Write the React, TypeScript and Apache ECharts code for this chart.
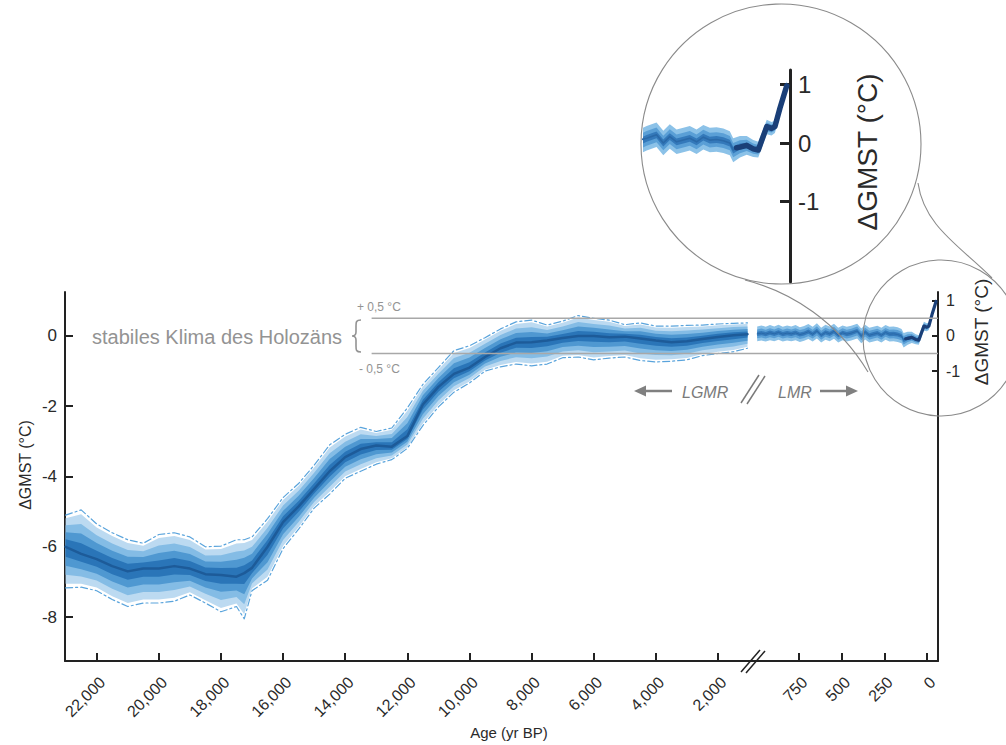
import React, { useEffect, useRef } from 'react';
import * as echarts from 'echarts';

// ---------- DATA ----------
// LGMR (Last Glacial Maximum Reanalysis), age in yr BP, ΔGMST in °C
const lgmrAges = [23000, 22500, 22000, 21500, 21000, 20500, 20000, 19500, 19000, 18500, 18000, 17500, 17250, 17000, 16500, 16000, 15500, 15000, 14500, 14000, 13500, 13000, 12500, 12000, 11500, 11000, 10500, 10000, 9500, 9000, 8500, 8000, 7500, 7000, 6500, 6000, 5500, 5000, 4500, 4000, 3500, 3000, 2500, 2000, 1500, 1050];
const lgmrMedian = [-6.0, -6.2, -6.35, -6.55, -6.7, -6.62, -6.62, -6.55, -6.62, -6.78, -6.8, -6.85, -6.75, -6.6, -6.0, -5.3, -4.85, -4.35, -3.85, -3.45, -3.22, -3.12, -3.15, -2.85, -1.95, -1.45, -1.08, -0.9, -0.6, -0.35, -0.19, -0.18, -0.13, -0.06, 0.0, 0.0, -0.04, -0.02, -0.07, -0.13, -0.18, -0.15, -0.09, -0.03, 0.02, 0.05];
const lgmrUpper = [-5.1, -4.95, -5.35, -5.6, -5.8, -5.9, -5.65, -5.6, -5.72, -6.0, -5.98, -5.8, -5.8, -5.72, -5.2, -4.6, -4.2, -3.68, -3.1, -2.8, -2.6, -2.72, -2.62, -2.05, -1.38, -0.9, -0.42, -0.28, -0.05, 0.2, 0.4, 0.45, 0.31, 0.42, 0.58, 0.5, 0.45, 0.32, 0.37, 0.28, 0.28, 0.3, 0.31, 0.34, 0.36, 0.37];
const lgmrLower = [-7.17, -7.15, -7.25, -7.5, -7.7, -7.6, -7.6, -7.55, -7.37, -7.6, -7.85, -7.7, -8.05, -7.25, -6.95, -6.05, -5.5, -4.9, -4.5, -4.05, -3.85, -3.65, -3.52, -3.2, -2.55, -2.02, -1.6, -1.34, -1.0, -0.88, -0.8, -0.85, -0.8, -0.62, -0.6, -0.68, -0.63, -0.6, -0.7, -0.74, -0.72, -0.68, -0.56, -0.5, -0.45, -0.35];

// LMR (Last Millennium Reanalysis)
const lmrAges = [995, 970, 945, 920, 895, 870, 845, 820, 795, 770, 745, 720, 695, 670, 645, 620, 595, 570, 545, 520, 495, 470, 444, 409, 385, 362, 338, 314, 291, 267, 243, 220, 196, 172, 149, 137, 113, 89, 66, 48, 36, 18, 1, -11, -29, -53];
const lmrMedian = [0.06, 0.08, 0.05, 0.09, 0.06, 0.10, 0.05, 0.08, 0.06, 0.09, 0.04, 0.07, 0.12, 0.05, 0.14, 0.02, 0.10, 0.06, 0.13, 0.02, 0.09, 0.05, 0.08, 0.14, 0.00, 0.11, 0.02, 0.05, 0.08, 0.02, 0.10, 0.05, 0.06, 0.04, 0.00, -0.12, -0.06, -0.04, -0.10, -0.12, 0.04, 0.28, 0.25, 0.28, 0.60, 0.98];
const lmrUpper = [0.27, 0.30, 0.26, 0.31, 0.27, 0.32, 0.26, 0.30, 0.27, 0.31, 0.25, 0.28, 0.34, 0.26, 0.36, 0.23, 0.32, 0.27, 0.35, 0.23, 0.30, 0.26, 0.29, 0.35, 0.21, 0.32, 0.23, 0.26, 0.29, 0.23, 0.31, 0.26, 0.27, 0.25, 0.20, 0.08, 0.12, 0.12, 0.05, 0.02, 0.17, 0.40, 0.36, 0.38, 0.70, 1.06];
const lmrLower = [-0.15, -0.13, -0.16, -0.12, -0.15, -0.11, -0.16, -0.13, -0.15, -0.12, -0.17, -0.14, -0.09, -0.16, -0.07, -0.19, -0.11, -0.15, -0.08, -0.19, -0.12, -0.16, -0.13, -0.07, -0.21, -0.10, -0.19, -0.16, -0.13, -0.19, -0.11, -0.16, -0.15, -0.17, -0.21, -0.33, -0.25, -0.20, -0.24, -0.25, -0.09, 0.15, 0.13, 0.17, 0.50, 0.90];

// instrumental segment (thick dark line)
const instAges = [125, 113, 89, 66, 48, 36, 18, 1, -11, -29, -53];
const instValues = [-0.08, -0.07, -0.04, -0.10, -0.12, 0.04, 0.28, 0.25, 0.28, 0.60, 0.98];

// ticks
const lgmrTicks = [22000, 20000, 18000, 16000, 14000, 12000, 10000, 8000, 6000, 4000, 2000];
const lmrTicks = [750, 500, 250, 0];
const leftYTicks = [-8, -6, -4, -2, 0];
const rightYTicks = [-1, 0, 1];
const holoceneBand = [0.5, -0.5];

// ---------- STYLE ----------
const FONT = '"Liberation Sans", Arial, Helvetica, sans-serif';
const AXIS = '#222';
const GRAY = '#939393';

echarts.graphic.registerShape(
  'brace',
  echarts.graphic.extendPath(
    'M9,0 C4,0 4,2 4,6 L4,12 C4,15 3,16 0,16 C3,16 4,17 4,20 L4,26 C4,30 4,32 9,32',
    {}
  )
);

const layer = (med: number[], bound: number[], f: number) => med.map((m, i) => m + f * (bound[i] - m));

function band(xi: number, ages: number[], up: number[], lo: number[], color: string, z: number) {
  return {
    type: 'custom',
    xAxisIndex: xi,
    yAxisIndex: xi,
    silent: true,
    z,
    data: [[ages[0], 0]],
    renderItem: (params: any, api: any) => {
      const pts: number[][] = [];
      for (let i = 0; i < ages.length; i++) pts.push(api.coord([ages[i], up[i]]));
      for (let i = ages.length - 1; i >= 0; i--) pts.push(api.coord([ages[i], lo[i]]));
      const cs = params.coordSys;
      const clipped = echarts.graphic.clipPointsByRect(pts, { x: cs.x, y: cs.y, width: cs.width, height: cs.height });
      return { type: 'polygon', shape: { points: clipped }, style: { fill: color } };
    },
  };
}

function line(xi: number, ages: number[], vals: number[], color: string, width: number, z: number, type: any = 'solid') {
  return {
    type: 'line',
    xAxisIndex: xi,
    yAxisIndex: xi,
    data: ages.map((a, i) => [a, vals[i]]),
    symbol: 'none',
    showSymbol: false,
    silent: true,
    clip: true,
    z,
    lineStyle: { color, width, type, join: 'round', cap: 'round' },
  };
}

const fmt = (v: number) => v.toLocaleString('en-US');

export default function App() {
  const ref = useRef<HTMLDivElement>(null);
  useEffect(() => {
    const chart = echarts.init(ref.current!, null, { renderer: 'svg' });

    const lgmrColors = ['#bcdaf1', '#84bce5', '#4f98d1', '#2a75b8'];
    const lgmrFr = [0.9, 0.68, 0.46, 0.24];
    const lgmrBands = lgmrFr.map((f, k) =>
      band(0, lgmrAges, layer(lgmrMedian, lgmrUpper, f), layer(lgmrMedian, lgmrLower, f), lgmrColors[k], 2 + k * 0.01)
    );
    const lmrColors = ['#8cc2e8', '#5a9fd6', '#3479ba'];
    const lmrFr = [1, 0.6, 0.28];
    const lmrBands = (xi: number) =>
      lmrFr.map((f, k) =>
        band(xi, lmrAges, layer(lmrMedian, lmrUpper, f), layer(lmrMedian, lmrLower, f), lmrColors[k], 2 + k * 0.01)
      );

    const baseX = (grid: number, min: number, max: number, ticks: number[] | null) => ({
      type: 'value',
      gridIndex: grid,
      inverse: true,
      min,
      max,
      show: ticks !== null,
      splitLine: { show: false },
      axisLine: { show: true, onZero: false, lineStyle: { color: AXIS, width: 2 } },
      axisTick: { show: true, inside: true, length: 8, customValues: ticks || [], lineStyle: { color: AXIS, width: 2 } },
      axisLabel: {
        show: true,
        customValues: ticks || [],
        rotate: 45,
        margin: 13,
        fontSize: 16,
        fontFamily: FONT,
        color: '#2a2a2a',
        verticalAlign: 'top',
        formatter: fmt,
      },
    });

    const baseY = (grid: number, min: number, max: number, ticks: number[], pos: string, fs: number, lw: number, tl: number) => ({
      type: 'value',
      gridIndex: grid,
      position: pos,
      min,
      max,
      splitLine: { show: false },
      axisLine: { show: true, onZero: false, lineStyle: { color: AXIS, width: lw } },
      axisTick: { show: true, inside: true, length: tl, customValues: ticks, lineStyle: { color: AXIS, width: lw } },
      axisLabel: { show: true, customValues: ticks, margin: 8, fontSize: fs, fontFamily: FONT, color: '#2a2a2a' },
    });

    const gl = { color: '#a8a8a8', width: 1.5 };
    const holoLines: any[] = [];
    holoceneBand.forEach((v) => {
      holoLines.push({
        type: 'line', xAxisIndex: 0, yAxisIndex: 0, symbol: 'none', silent: true, z: 6,
        data: [[13150, v], [873, v]], lineStyle: gl,
      });
      holoLines.push({
        type: 'line', xAxisIndex: 1, yAxisIndex: 1, symbol: 'none', silent: true, z: 6,
        data: [[1019.5, v], [-64.5, v]], lineStyle: gl,
      });
    });

    const txt = (text: string, x: number, y: number, size: number, opts: any = {}) => ({
      type: 'text',
      x,
      y,
      rotation: opts.rotation || 0,
      z: 20,
      style: {
        text,
        fill: opts.fill || '#2a2a2a',
        fontSize: size,
        fontFamily: FONT,
        fontStyle: opts.italic ? 'italic' : 'normal',
        align: opts.align || 'center',
        verticalAlign: 'middle',
      },
    });
    const seg = (x1: number, y1: number, x2: number, y2: number, color: string, w: number) => ({
      type: 'line', z: 20, shape: { x1, y1, x2, y2 }, style: { stroke: color, lineWidth: w },
    });

    const option: any = {
      animation: false,
      backgroundColor: '#ffffff',
      grid: [
        { left: 65, top: 292, width: 688, height: 369, outerBoundsMode: 'none' },
        { left: 753, top: 292, width: 185, height: 369, outerBoundsMode: 'none' },
        { left: 643, top: 70, width: 147, height: 212, outerBoundsMode: 'none' },
      ],
      xAxis: [
        baseX(0, 873, 23020, lgmrTicks),
        baseX(1, -64.5, 1019.5, lmrTicks),
        baseX(2, -64.5, 457, null),
      ],
      yAxis: [
        baseY(0, -9.25, 1.25, leftYTicks, 'left', 17, 2, 8),
        baseY(1, -9.25, 1.25, rightYTicks, 'right', 16, 2, 6),
        baseY(2, -2.38, 1.25, rightYTicks, 'right', 24, 3, 10),
      ],
      series: [
        ...lgmrBands,
        line(0, lgmrAges, lgmrMedian, '#1d5b99', 2.5, 4),
        line(0, lgmrAges, lgmrUpper, '#5aa4dc', 1.2, 4, [7, 3, 2, 3]),
        line(0, lgmrAges, lgmrLower, '#5aa4dc', 1.2, 4, [7, 3, 2, 3]),
        ...lmrBands(1),
        line(1, lmrAges, lmrMedian, '#2a69a8', 1, 4),
        line(1, instAges, instValues, '#1a3f78', 3.2, 5),
        ...lmrBands(2),
        line(2, lmrAges, lmrMedian, '#2a69a8', 1.6, 4),
        line(2, instAges, instValues, '#1a3f78', 5.5, 5),
        ...holoLines,
      ],
      graphic: [
        txt('ΔGMST (°C)', 25, 465, 16, { rotation: Math.PI / 2 }),
        txt('Age (yr BP)', 509, 732, 15),
        txt('stabiles Klima des Holozäns', 92, 337, 20, { align: 'left', fill: GRAY }),
        { type: 'brace', x: 352, y: 320, z: 20, style: { stroke: GRAY, fill: 'none', lineWidth: 1.6 } },
        txt('+ 0,5 °C', 357, 307, 12, { align: 'left', fill: GRAY }),
        txt('- 0,5 °C', 359, 369, 12, { align: 'left', fill: GRAY }),
        // LGMR // LMR annotation
        seg(643, 391, 672, 391, '#808080', 2.5),
        { type: 'polygon', z: 20, shape: { points: [[634, 391], [646, 385.5], [646, 396.5]] }, style: { fill: '#808080' } },
        txt('LGMR', 682, 392, 16, { align: 'left', italic: true, fill: '#7a7a7a' }),
        seg(741, 403, 759, 375, '#7a7a7a', 1.5),
        seg(747, 404, 765, 376, '#7a7a7a', 1.5),
        txt('LMR', 778, 392, 16, { align: 'left', italic: true, fill: '#7a7a7a' }),
        seg(820, 391, 849, 391, '#808080', 2.5),
        { type: 'polygon', z: 20, shape: { points: [[858, 391], [846, 385.5], [846, 396.5]] }, style: { fill: '#808080' } },
        // axis break
        seg(741, 672, 760, 650, AXIS, 1.5),
        seg(746, 673, 765, 651, AXIS, 1.5),
        // magnifier circles
        { type: 'circle', z: 19, shape: { cx: 941, cy: 338, r: 78 }, style: { fill: 'none', stroke: '#8a8a8a', lineWidth: 1.1 } },
        { type: 'circle', z: 19, shape: { cx: 781, cy: 144, r: 140 }, style: { fill: 'none', stroke: '#8a8a8a', lineWidth: 1.1 } },
        { type: 'bezierCurve', z: 19, shape: { x1: 745, y1: 280, cpx1: 792, cpy1: 292, cpx2: 838, cpy2: 322, x2: 868, y2: 372 }, style: { fill: 'none', stroke: '#8a8a8a', lineWidth: 1.1 } },
        { type: 'bezierCurve', z: 19, shape: { x1: 918, y1: 183, cpx1: 924, cpy1: 226, cpx2: 960, cpy2: 246, x2: 992, y2: 278 }, style: { fill: 'none', stroke: '#8a8a8a', lineWidth: 1.1 } },
        txt('ΔGMST (°C)', 981, 332, 19, { rotation: Math.PI / 2 }),
        txt('ΔGMST (°C)', 867, 152, 28, { rotation: Math.PI / 2 }),
      ],
    };

    chart.setOption(option);
    return () => chart.dispose();
  }, []);

  return (
    <div
      ref={ref}
      style={{ position: 'absolute', left: 0, top: 0, width: 1006, height: 745, background: '#fff' }}
    />
  );
}
